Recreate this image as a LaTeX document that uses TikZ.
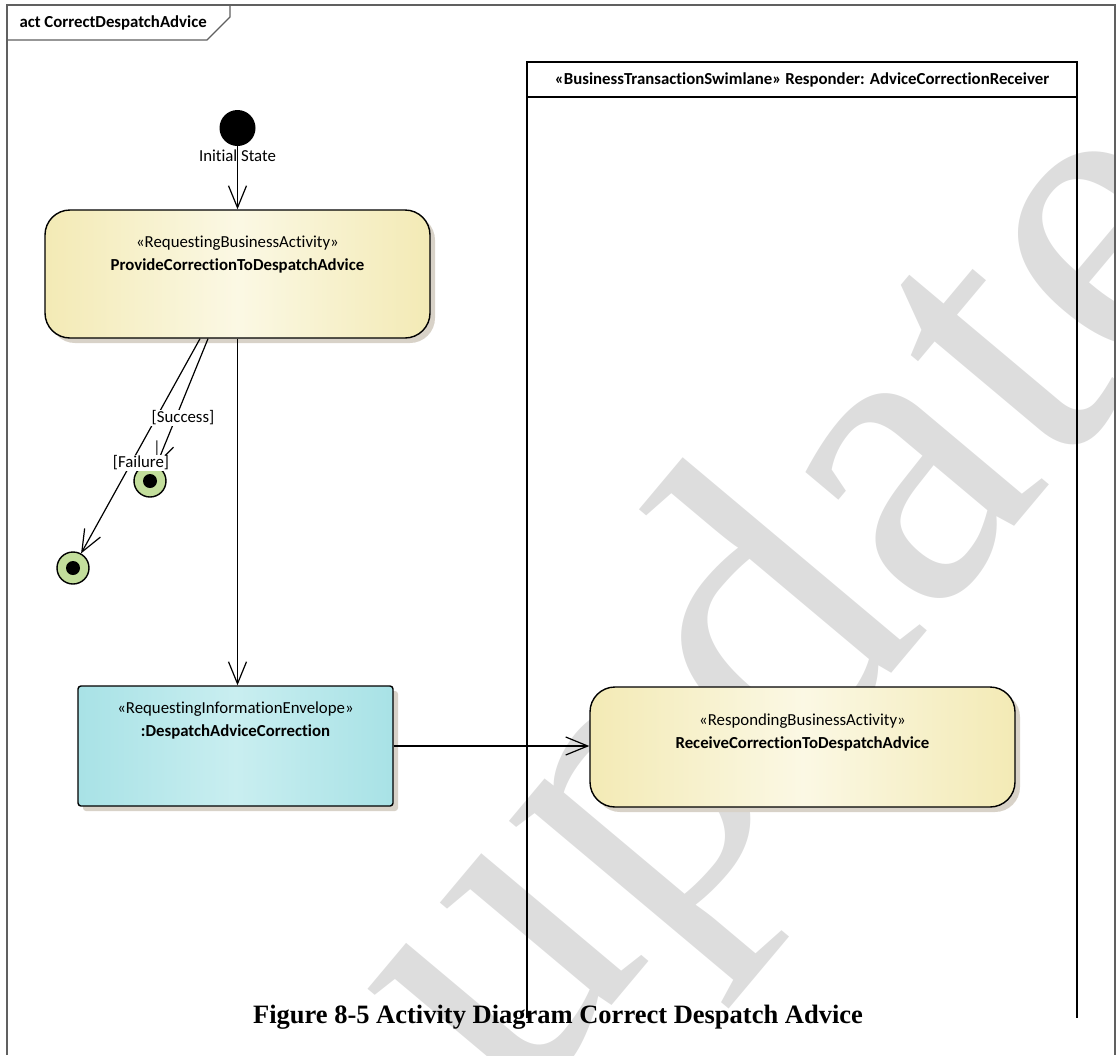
\documentclass[tikz,border=0pt]{standalone}
\usepackage{fontspec}
\setmainfont{Carlito}[Ligatures=NoCommon]
\newfontfamily\capfont{Liberation Serif}
\usetikzlibrary{arrows.meta,positioning}

\definecolor{ActYellow}{HTML}{F3EAB5}
\definecolor{ActLight}{HTML}{FBF8E4}
\definecolor{EnvCyan}{HTML}{A8E2E6}
\definecolor{EnvLight}{HTML}{C9EEF0}
\definecolor{FinGreen}{HTML}{C3DE9C}
\definecolor{ShadowGray}{HTML}{D8D2C8}
\definecolor{FrameGray}{HTML}{606060}
\definecolor{MarkGray}{HTML}{DDDDDD}

\newcommand\diafont{\fontsize{16.8}{20}\selectfont}

\begin{document}
\begin{tikzpicture}[x=1pt, y=-1pt, font=\diafont]
\useasboundingbox (0,0) rectangle (1116,1055);

\tikzset{MarkStyle/.style = {
 font = \fontsize{430}{430}\selectfont\capfont,
 text = MarkGray,
 rotate = 50,
 inner sep = 0pt} }

\node[MarkStyle] (Mark) at (805,615) {update};

% frame and swimlane
\draw[FrameGray, line width=1.2pt] (7,1055) -- (7,5) -- (1115,5) -- (1115,1055);
\draw[FrameGray, line width=1.2pt] (7,40) -- (207,40) -- (230,17) -- (230,5);
\node[anchor=west, font=\diafont\bfseries] (Title) at (16,23) {act CorrectDespatchAdvice};

\tikzset{LaneStyle/.style = {line width=1.8pt, black} }

\draw[LaneStyle] (527,1018) -- (527,62) -- (1077,62) -- (1077,1018);
\draw[LaneStyle] (527,97) -- (1077,97);
\node[font=\diafont\bfseries] (LaneHead) at (802,80) {«BusinessTransactionSwimlane» Responder: AdviceCorrectionReceiver};

\tikzset{ActStyle/.style = {
 shape = rectangle,
 draw = black,
 line width = 1.4pt,
 rounded corners = 25pt,
 left color = ActYellow,
 right color = ActYellow,
 middle color = ActLight,
 preaction = {fill=ShadowGray, transform canvas={shift={(5pt,-5pt)}}}} }
\tikzset{EnvStyle/.style = {
 ActStyle,
 rounded corners = 3pt,
 left color = EnvCyan,
 right color = EnvCyan,
 middle color = EnvLight} }
\tikzset{FinStyle/.style = {
 shape = circle,
 draw = black,
 line width = 1.4pt,
 fill = FinGreen,
 minimum size = 32pt,
 path picture = {\fill[black] (path picture bounding box.center) circle (7pt);}} }
\tikzset{TextStyle/.style = {inner sep=0pt} }

\node[shape=circle, fill=black, minimum size=36pt] (Init) at (237.5,128) {};
\node[TextStyle, below=3pt of Init] (InitLbl) {Initial State};

\node[ActStyle, minimum width=385pt, minimum height=128pt] (Act1) at (237.5,274) {};
\node[TextStyle] (Act1St) at ([yshift=-34pt]Act1.north) {«RequestingBusinessActivity»};
\node[TextStyle, font=\diafont\bfseries] (Act1Nm) at ([yshift=-57pt]Act1.north) {ProvideCorrectionToDespatchAdvice};

\node[EnvStyle, minimum width=315pt, minimum height=120pt] (Env1) at (235.5,746) {};
\node[TextStyle] (Env1St) at ([yshift=-24pt]Env1.north) {«RequestingInformationEnvelope»};
\node[TextStyle, font=\diafont\bfseries] (Env1Nm) at ([yshift=-47pt]Env1.north) {:DespatchAdviceCorrection};

\node[ActStyle, minimum width=425pt, minimum height=120pt] (Act2) at (802.5,747) {};
\node[TextStyle] (Act2St) at ([yshift=-35pt]Act2.north) {«RespondingBusinessActivity»};
\node[TextStyle, font=\diafont\bfseries] (Act2Nm) at ([yshift=-58pt]Act2.north) {ReceiveCorrectionToDespatchAdvice};

\node[FinStyle] (Fin1) at (150,481) {};
\node[FinStyle] (Fin2) at (73,568) {};

\tikzset{FlowStyle/.style = {
 line width = 1.2pt,
 -{Straight Barb[length=22pt, width=18pt]}} }

\draw[FlowStyle] (Init) -- (Act1);
\draw[FlowStyle] (Act1.south) -- (Act1.south |- Env1.north);
\draw[FlowStyle] (Env1.east) -- (Env1.east -| Act2.west);
\draw[FlowStyle] ([xshift=-29.5pt]Act1.south) -- (Fin1);
\draw[FlowStyle] ([xshift=-37.5pt]Act1.south) -- (Fin2);

\tikzset{GuardStyle/.style = {fill=white, inner sep=1pt} }

\node[GuardStyle] (SuccLbl) at (183,418) {[Success]};
\node[GuardStyle] (FailLbl) at (141,463) {[Failure]};

\node[font=\fontsize{26.5}{30}\selectfont\capfont\bfseries] (Caption) at (558,1017) {Figure 8-5 Activity Diagram Correct Despatch Advice};

\end{tikzpicture}
\end{document}
